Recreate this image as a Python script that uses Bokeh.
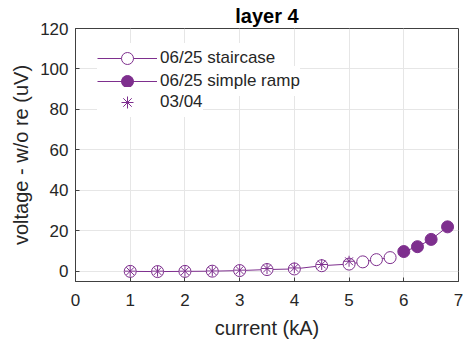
from bokeh.plotting import figure
from bokeh.models import (Range1d, FixedTicker, Legend, LegendItem)
from bokeh.embed import file_html
from bokeh.resources import INLINE

title = "layer 4"
x_label = "current (kA)"
y_label = "voltage - w/o re (uV)"

stair_x = [1, 1.5, 2, 2.5, 3, 3.5, 4, 4.5, 5, 5.25, 5.5, 5.75]
stair_y = [0.0, -0.1, 0.0, 0.1, 0.4, 0.9, 1.2, 2.8, 3.6, 4.7, 5.8, 6.8]
ramp_x = [6, 6.25, 6.5, 6.8]
ramp_y = [9.8, 12.2, 15.8, 22.0]
star_x = [1, 1.5, 2, 2.5, 3, 3.5, 4, 4.5, 5]
star_y = [0.1, 0.1, 0.1, 0.2, 0.6, 1.4, 1.7, 3.4, 5.0]

x_ticks = [0, 1, 2, 3, 4, 5, 6, 7]
y_ticks = [0, 20, 40, 60, 80, 100, 120]

PURPLE = "#7E2F8E"
AXC = "#404040"
TXT = "#262626"
FONT = "Liberation Sans"

p = figure(width=464, height=341, output_backend="svg", toolbar_location=None,
           x_range=Range1d(0, 7), y_range=Range1d(-5, 120),
           min_border_left=75, min_border_right=6, min_border_top=28,
           min_border_bottom=59)

p.title.text = title
p.title.align = "center"
p.title.text_font = FONT
p.title.text_font_size = "20px"
p.title.text_font_style = "bold"
p.title.text_color = "#000000"
p.title.standoff = 3

p.outline_line_color = AXC
p.outline_line_width = 1
p.background_fill_color = "white"
p.border_fill_color = "white"

for ax, ticks in ((p.xaxis[0], x_ticks), (p.yaxis[0], y_ticks)):
    ax.ticker = FixedTicker(ticks=ticks)
    ax.minor_tick_line_color = None
    ax.major_tick_in = 4
    ax.major_tick_out = 0
    ax.axis_line_color = AXC
    ax.major_tick_line_color = AXC
    ax.major_label_text_font = FONT
    ax.major_label_text_font_size = "17px"
    ax.major_label_text_color = TXT
    ax.axis_label_text_font = FONT
    ax.axis_label_text_font_size = "20px"
    ax.axis_label_text_font_style = "normal"
    ax.axis_label_text_color = TXT

p.xaxis[0].axis_label = x_label
p.xaxis[0].major_label_standoff = 12
p.xaxis[0].axis_label_standoff = 8
p.yaxis[0].axis_label = y_label
p.yaxis[0].major_label_standoff = 7
p.yaxis[0].axis_label_standoff = 5

p.xgrid.ticker = FixedTicker(ticks=x_ticks)
p.ygrid.ticker = FixedTicker(ticks=y_ticks)
for g in (p.xgrid[0], p.ygrid[0]):
    g.grid_line_color = "#e6e6e6"
    g.grid_line_width = 1

l1 = p.line(stair_x, stair_y, line_color=PURPLE, line_width=1)
s1 = p.scatter(stair_x, stair_y, marker="circle", size=12, fill_color="white",
               line_color=PURPLE, line_width=1)
l2 = p.line(ramp_x, ramp_y, line_color=PURPLE, line_width=1)
s2 = p.scatter(ramp_x, ramp_y, marker="circle", size=12, fill_color=PURPLE,
               line_color=PURPLE, line_width=1)
s3 = p.scatter(star_x, star_y, marker="asterisk", size=11, line_color=PURPLE,
               line_width=1)
s3b = p.scatter(star_x, star_y, marker="dot", size=6, line_color=PURPLE, fill_color=PURPLE)

entries = [("06/25 staircase", [l1, s1], 208),
           ("06/25 simple ramp", [l2, s2], 185),
           ("03/04", [s3], 164)]
for label, rends, vy in entries:
    lg = Legend(items=[LegendItem(label=label, renderers=rends)], location=(22, vy))
    lg.border_line_color = None
    lg.background_fill_color = "white"
    lg.background_fill_alpha = 1
    lg.label_text_font = FONT
    lg.label_text_font_size = "17px"
    lg.label_text_color = TXT
    lg.glyph_width = 60
    lg.glyph_height = 30
    lg.spacing = 0
    lg.padding = 0
    lg.margin = 0
    lg.label_standoff = 3
    p.add_layout(lg)

open("out.html", "w").write(file_html(p, INLINE))
